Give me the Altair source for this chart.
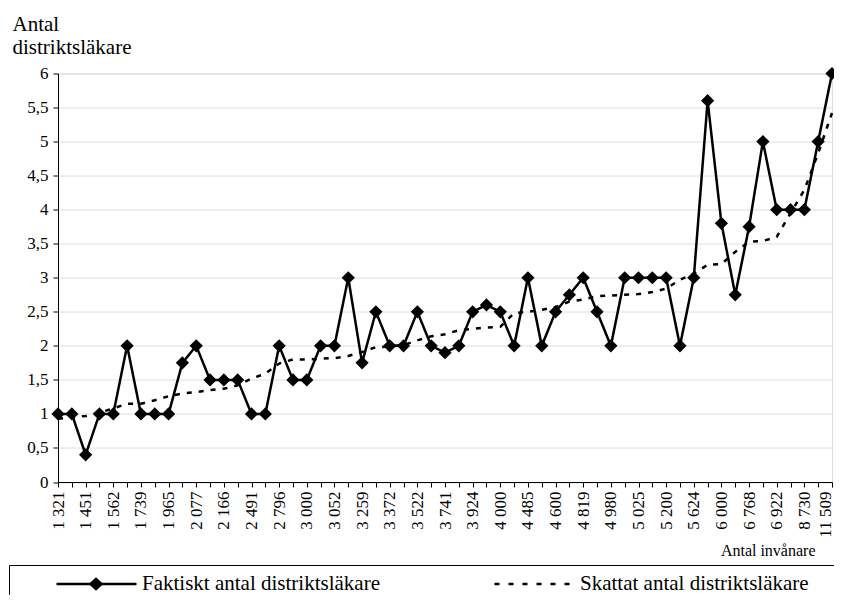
import json
import altair as alt
import pandas as pd

# x-axis tick labels (every other category is labelled)
tick_labels = ["1 321", "1 451", "1 562", "1 739", "1 965", "2 077", "2 166", "2 491",
               "2 796", "3 000", "3 052", "3 259", "3 372", "3 522", "3 741", "3 924",
               "4 000", "4 485", "4 600", "4 819", "4 980", "5 025", "5 200", "5 624",
               "6 000", "6 768", "6 922", "8 730", "11 509"]

# Faktiskt antal distriktsläkare (57 distrikt, sorted by population)
actual = [1, 1, 0.4, 1, 1, 2, 1, 1, 1, 1.75,
          2, 1.5, 1.5, 1.5, 1, 1, 2, 1.5, 1.5, 2,
          2, 3, 1.75, 2.5, 2, 2, 2.5, 2, 1.9, 2,
          2.5, 2.6, 2.5, 2, 3, 2, 2.5, 2.75, 3, 2.5,
          2, 3, 3, 3, 3, 2, 3, 5.6, 3.8, 2.75,
          3.75, 5, 4, 4, 4, 5, 6]

# Skattat antal distriktsläkare
estimated = [0.93, 0.95, 0.97, 1.02, 1.08, 1.15, 1.15, 1.2, 1.26, 1.3,
             1.32, 1.35, 1.37, 1.42, 1.52, 1.59, 1.74, 1.8, 1.8, 1.81,
             1.82, 1.85, 1.91, 1.98, 1.99, 2.01, 2.08, 2.14, 2.17, 2.23,
             2.25, 2.27, 2.28, 2.48, 2.5, 2.53, 2.57, 2.65, 2.68, 2.73,
             2.74, 2.75, 2.76, 2.79, 2.84, 2.97, 3.06, 3.19, 3.2, 3.38,
             3.53, 3.54, 3.6, 3.95, 4.29, 4.83, 5.42]

series = ["Faktiskt antal distriktsläkare", "Skattat antal distriktsläkare"]
y_ticks = [0, 0.5, 1, 1.5, 2, 2.5, 3, 3.5, 4, 4.5, 5, 5.5, 6]

n = len(actual)
df = pd.DataFrame({
    "idx": list(range(n)) * 2,
    "value": actual + estimated,
    "serie": [series[0]] * n + [series[1]] * n,
})
df["serie_line"] = df["serie"]

FONT = "Liberation Serif"
label_expr = "datum.value % 2 == 0 ? " + json.dumps(tick_labels) + "[datum.value / 2] : ''"

x_enc = alt.X(
    "idx:Q",
    scale=alt.Scale(domain=[0, n - 1], nice=False, zero=False),
    axis=alt.Axis(
        values=list(range(n)), labelExpr=label_expr, labelAngle=-90,
        labelAlign="right", labelBaseline="middle", labelPadding=4,
        labelOffset={"condition": {"test": f"datum.value == {n - 1}", "value": -7}, "value": 0},
        labelOverlap=False, labelFont=FONT, labelFontSize=17, labelColor="black",
        tickSize=5, tickColor="black", domainColor="black", grid=False,
        title="Antal invånare", titleFont=FONT, titleFontSize=16,
        titleFontWeight="normal", titleColor="black", titleAlign="right",
        titleX=757, titleY=68, titleBaseline="middle", titleAnchor=None,
    ),
)
y_enc = alt.Y(
    "value:Q",
    scale=alt.Scale(domain=[0, 6], nice=False),
    axis=alt.Axis(
        values=y_ticks, labelExpr="replace(format(datum.value, '.1~f'), '.', ',')",
        labelFont=FONT, labelFontSize=17, labelColor="black", labelPadding=5,
        tickSize=5, tickColor="black", domainColor="black",
        grid=True, gridColor="#dedede", gridWidth=1,
        title=["Antal", "distriktsläkare"], titleFont=FONT, titleFontSize=21,
        titleFontWeight="normal", titleColor="black", titleAngle=0,
        titleAlign="left", titleBaseline="alphabetic", titleLineHeight=23,
        titleX=-46, titleY=-43.5,
    ),
)

base = alt.Chart(df)

est_line = base.transform_filter(alt.datum.serie == series[1]).mark_line(
    color="black", strokeWidth=2.5, strokeDash=[5, 7]
).encode(x=x_enc, y=y_enc)

act_line = base.transform_filter(alt.datum.serie == series[0]).mark_line(
    color="black", strokeWidth=2.5
).encode(x=x_enc, y=y_enc)

act_pts = base.transform_filter(alt.datum.serie == series[0]).mark_point(
    shape="diamond", filled=True, color="black", size=175, opacity=1
).encode(x=x_enc, y=y_enc)

common = dict(
    title=None, orient="none", direction="horizontal", legendX=-49, legendY=491.5,
    padding=10, symbolOffset=36, symbolSize=6400, clipHeight=18,
    labelFont=FONT, labelFontSize=21, labelColor="black", labelOffset=4,
    labelLimit=500,
)

# legend part 1: line samples (solid / dashed) with their labels
leg_lines = alt.Legend(symbolStrokeWidth=2.5, columnPadding=77, **common)
legend_lines = base.transform_filter("datum.idx < 0").mark_line(
    color="black", strokeWidth=2.5
).encode(
    x=x_enc, y=y_enc,
    strokeDash=alt.StrokeDash("serie_line:N", scale=alt.Scale(domain=series, range=[[1, 0], [5, 9]]),
                              legend=leg_lines),
)

# legend part 2: diamond marker on the first sample, and the frame
leg_marks = alt.Legend(strokeColor="black", symbolStrokeColor="black", labelExpr="''",
                       columnPadding=900, **common)
legend_marks = base.transform_filter("datum.idx < 0").mark_point(
    filled=True, color="black", stroke="black", opacity=1
).encode(
    x=x_enc, y=y_enc,
    shape=alt.Shape("serie:N", scale=alt.Scale(domain=series,
                    range=["M-0.18,0L0,-0.17L0.18,0L0,0.17Z", "M0,0"]), legend=leg_marks),
)

chart = alt.layer(est_line, act_line, act_pts, legend_lines, legend_marks).resolve_scale(
    shape="independent", strokeDash="independent"
).properties(
    width=774, height=408.5,
    autosize=alt.AutoSizeParams(type="none"),
    padding={"left": 50, "top": 65.5, "right": 2, "bottom": 113},
).configure_view(stroke="#404040", strokeWidth=1).configure(background="white")

chart.save("out.html", embed_options={"renderer": "svg", "actions": False})
